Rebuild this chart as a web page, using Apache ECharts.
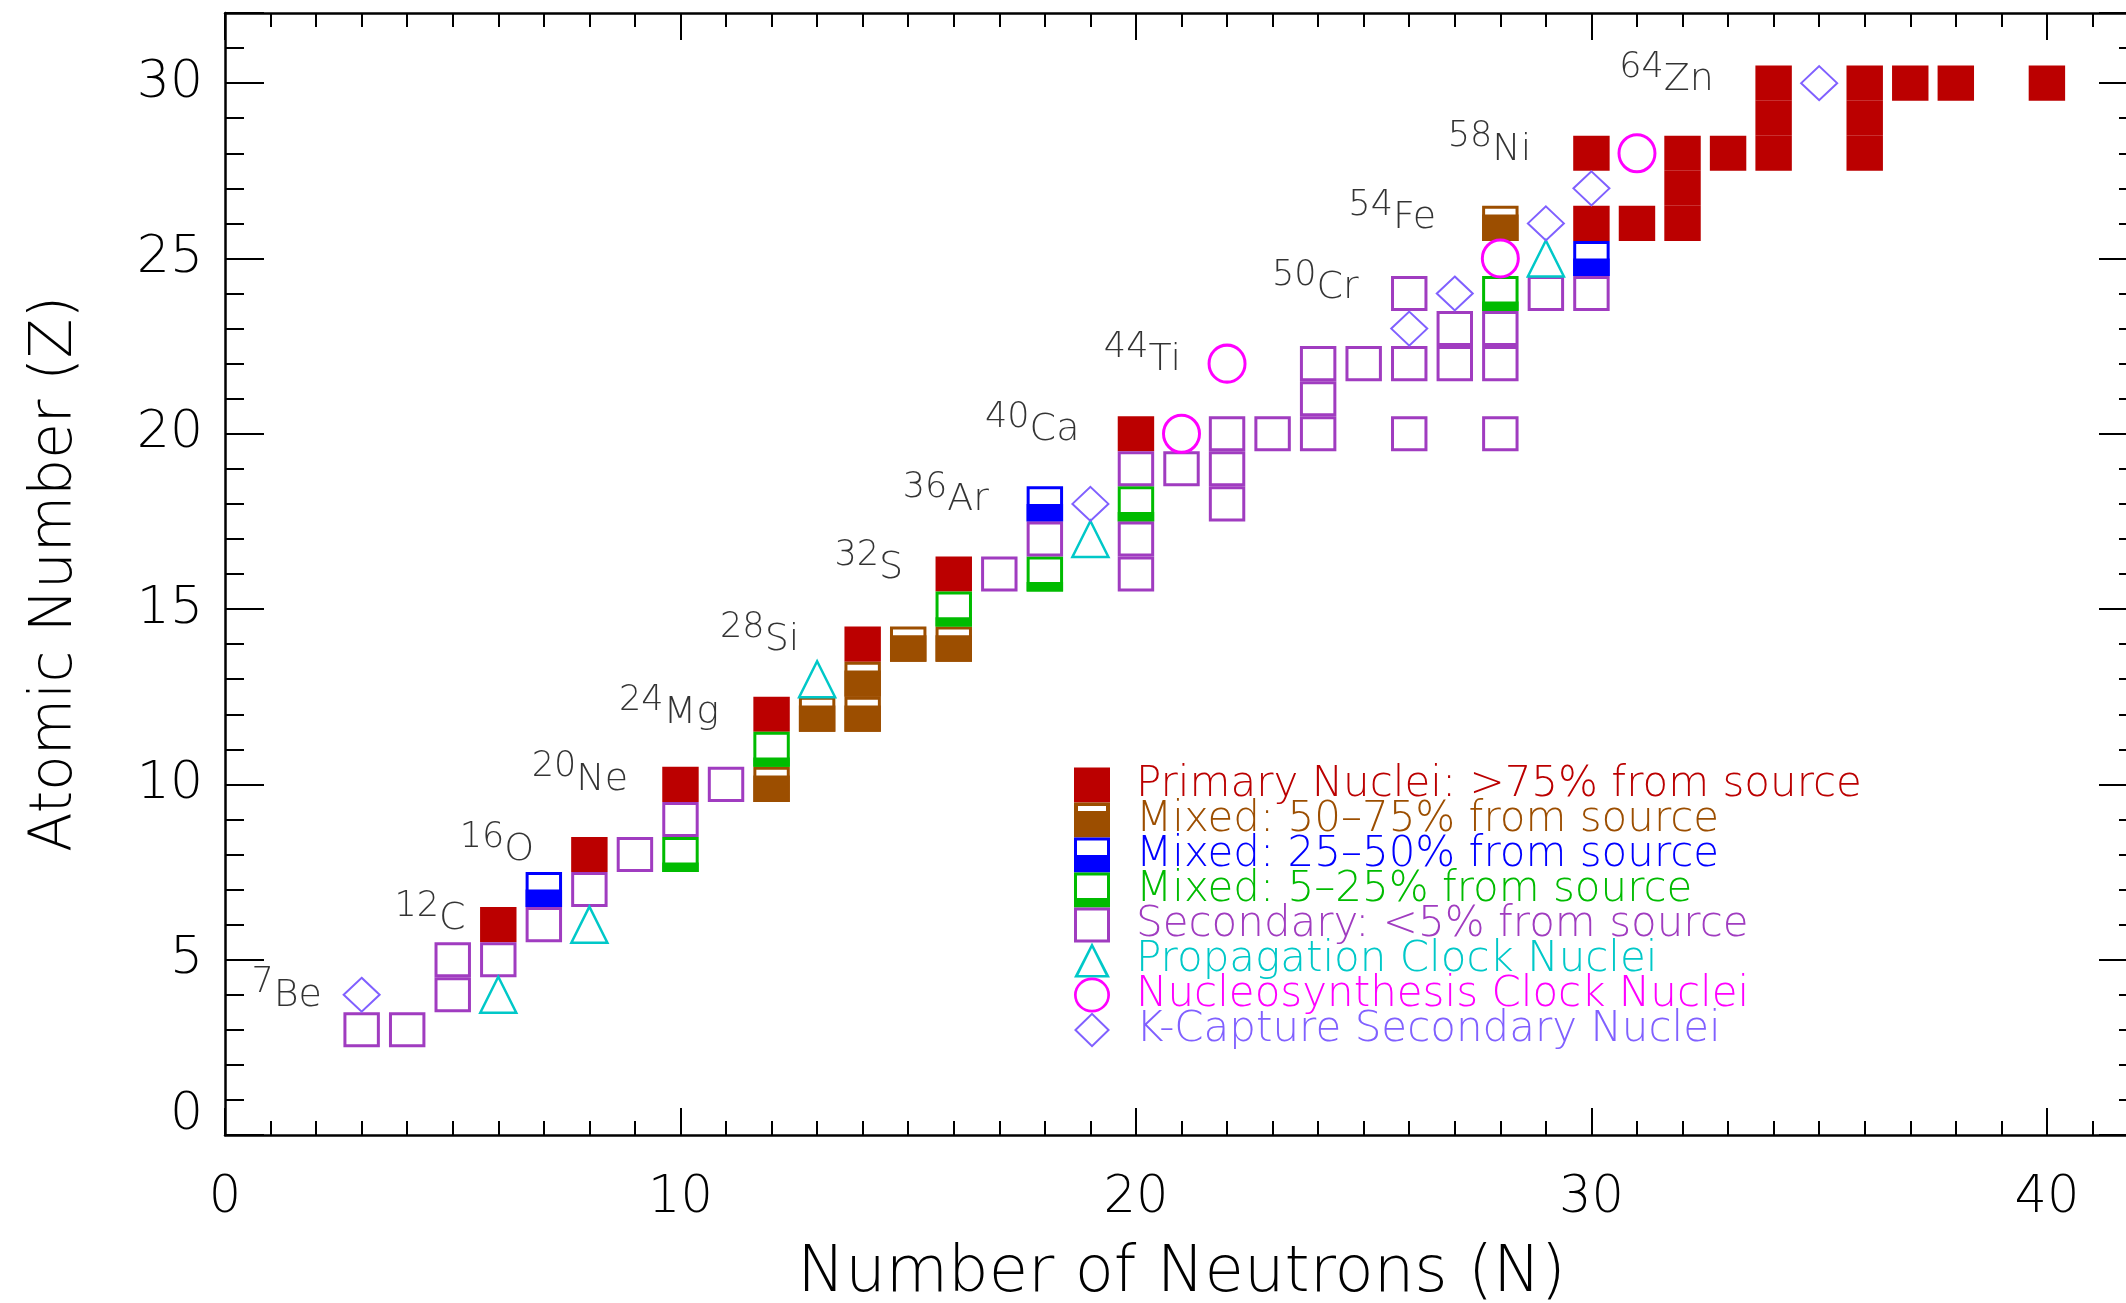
<!DOCTYPE html>
<html>
<head>
<meta charset="utf-8">
<title>Nuclei origin chart</title>
<script src="https://cdn.jsdelivr.net/npm/echarts@6.0.0/dist/echarts.min.js"></script>
<style>
html, body { margin: 0; padding: 0; background: #ffffff; }
#chart { width: 2126px; height: 1303px; }
</style>
</head>
<body>
<div id="chart"></div>
<script>
// ---------------- DATA : [N (neutrons), Z (atomic number)] ----------------
const primary = [[6,6],[8,8],[10,10],[12,12],[14,14],[16,16],[20,20],[30,26],[30,28],[31,26],
  [32,26],[32,27],[32,28],[33,28],[34,28],[34,29],[34,30],[36,28],[36,29],[36,30],[37,30],[38,30],[40,30]];
const mixed5075 = [[12,10],[13,12],[14,12],[14,13],[15,14],[16,14],[28,26]];
const mixed2550 = [[7,7],[18,18],[30,25]];
const mixed525 = [[10,8],[12,11],[16,15],[18,16],[20,18],[28,24]];
const secondary = [[3,3],[4,3],[5,4],[5,5],[6,5],[7,6],[8,7],[9,8],[10,9],[11,10],[17,16],[18,17],
  [20,16],[20,17],[20,19],[21,19],[22,18],[22,19],[22,20],[23,20],[24,20],[24,21],[24,22],[25,22],
  [26,20],[26,22],[26,24],[27,22],[27,23],[28,20],[28,22],[28,23],[29,24],[30,24]];
const propagationClock = [[6,4],[8,6],[13,13],[19,17],[29,25]];
const nucleosynthesisClock = [[21,20],[22,22],[28,25],[31,28]];
const kCapture = [[3,4],[19,18],[26,23],[27,24],[29,26],[30,27],[35,30]];
// isotope labels: [N at right end of label, Z of element symbol, mass number, element]
const isotopeLabels = [[2.14,3.97,'7','Be'],[5.29,6.16,'12','C'],[6.80,8.13,'16','O'],[8.86,10.13,'20','Ne'],
  [10.86,12.03,'24','Mg'],[12.62,14.1,'28','Si'],[14.9,16.17,'32','S'],[16.78,18.1,'36','Ar'],
  [18.77,20.1,'40','Ca'],[21.0,22.1,'44','Ti'],[24.9,24.15,'50','Cr'],[26.6,26.14,'54','Fe'],
  [28.69,28.1,'58','Ni'],[32.7,30.09,'64','Zn']];
const categoryNames = ['Primary Nuclei: >75% from source','Mixed: 50–75% from source','Mixed: 25–50% from source',
  'Mixed: 5–25% from source','Secondary: <5% from source','Propagation Clock Nuclei',
  'Nucleosynthesis Clock Nuclei','K-Capture Secondary Nuclei'];
const sourceFraction = [1, 0.75, 0.5, 0.27, 0];
const xTickLabels = ['0','10','20','30','40'];
const yTickLabels = ['0','5','10','15','20','25','30'];
const xTitle = 'Number of Neutrons (N)';
const yTitle = 'Atomic Number (Z)';

// ---------------- STYLE ----------------
const FONT = '"DejaVu Sans", sans-serif';
const FW = 200;
const COLORS = ['#BB0000','#9C4E00','#0000FF','#00BB00','#A03CC0','#00C8C8','#FF00FF','#8060FF'];
const CELL_W = 0.8;   // square width in N units (height = 1 Z unit)
const LW = 3;
const ICONS = [
  'rect',
  'path://M0,0H36V35H0Z M4,3.5V8.5H32V3.5Z',
  'path://M0,0H36V35H0Z M3,3V17.5H33V3Z',
  'path://M0,0H36V35H0Z M3,3V25.5H33V3Z',
  'path://M0,0H36V35H0Z M3,3V32H33V3Z',
  'path://M18,0L36,35H0Z M18,5.5L4.5,32.5H31.5Z',
  'path://M0,17.5A18,17.5 0 1 1 36,17.5A18,17.5 0 1 1 0,17.5Z M2.7,17.5A15.3,14.8 0 1 0 33.3,17.5A15.3,14.8 0 1 0 2.7,17.5Z',
  'path://M18,0L36,17.5L18,35L0,17.5Z M18,2.8L2.9,17.5L18,32.2L33.1,17.5Z'
];

function squareRenderer(color, frac) {
  return function (params, api) {
    const c = api.coord([api.value(0), api.value(1)]);
    const s = api.size([CELL_W, 1]);
    const w = s[0], h = s[1];
    const x0 = c[0] - w / 2, y0 = c[1] - h / 2;
    const kids = [];
    if (frac >= 1) {
      kids.push({ type: 'rect', shape: { x: x0, y: y0, width: w, height: h }, style: { fill: color } });
    } else {
      kids.push({ type: 'rect', shape: { x: x0 + LW / 2, y: y0 + LW / 2, width: w - LW, height: h - LW },
        style: { fill: '#ffffff', stroke: color, lineWidth: LW } });
      if (frac > 0) {
        kids.push({ type: 'rect', shape: { x: x0, y: y0 + h * (1 - frac), width: w, height: h * frac },
          style: { fill: color } });
      }
    }
    return { type: 'group', children: kids };
  };
}

const squareData = [primary, mixed5075, mixed2550, mixed525, secondary];
const series = squareData.map((d, i) => ({
  type: 'custom', name: categoryNames[i], data: d, xAxisIndex: 0, yAxisIndex: 0,
  itemStyle: { color: COLORS[i] }, renderItem: squareRenderer(COLORS[i], sourceFraction[i]),
  silent: true, z: 2
}));
const shapeSeries = [
  { data: propagationClock, symbol: 'triangle', size: [36, 36], bw: 2.5 },
  { data: nucleosynthesisClock, symbol: 'circle', size: [36, 37], bw: 3 },
  { data: kCapture, symbol: 'diamond', size: [36, 34], bw: 2 }
];
shapeSeries.forEach((s, k) => {
  const i = 5 + k;
  series.push({
    type: 'scatter', name: categoryNames[i], data: s.data, xAxisIndex: 0, yAxisIndex: 0,
    symbol: s.symbol, symbolSize: s.size, silent: true, z: 3,
    itemStyle: { color: 'rgba(255,255,255,0)', borderColor: COLORS[i], borderWidth: s.bw, opacity: 1 }
  });
});
series.push({
  type: 'scatter', name: 'labels', xAxisIndex: 0, yAxisIndex: 0, silent: true, z: 5,
  data: isotopeLabels.map(r => ({ value: [r[0], r[1]], mass: r[2], elem: r[3] })),
  symbolSize: 1, itemStyle: { color: 'rgba(0,0,0,0)' },
  label: {
    show: true, position: 'left', distance: 0,
    formatter: p => '{m|' + p.data.mass + '}{e|' + p.data.elem + '}',
    rich: {
      m: { fontFamily: FONT, fontWeight: FW, fontSize: 35, lineHeight: 20, verticalAlign: 'top', color: '#000' },
      e: { fontFamily: FONT, fontWeight: FW, fontSize: 38, lineHeight: 60, color: '#000' }
    }
  }
});

function makeAxis(dim, pos, interval, len, major) {
  const isX = dim === 'x';
  return {
    type: 'value', gridIndex: 0, position: pos, min: 0, max: isX ? 42 : 32, interval: interval,
    axisLine: { show: major, onZero: false, lineStyle: { color: '#000', width: 2.5 } },
    axisTick: { show: true, inside: true, length: len, lineStyle: { color: '#000', width: 2 } },
    axisLabel: { show: false },
    splitLine: { show: false }, minorTick: { show: false }, axisPointer: { show: false }
  };
}
const xAxes = [makeAxis('x','bottom',10,27,true), makeAxis('x','bottom',1,14,false),
               makeAxis('x','top',10,27,true), makeAxis('x','top',1,14,false)];
const yAxes = [makeAxis('y','left',5,39,true), makeAxis('y','left',1,19,false),
               makeAxis('y','right',5,39,true), makeAxis('y','right',1,19,false)];
Object.assign(xAxes[0], {
  name: xTitle, nameLocation: 'middle', nameGap: 107,
  nameTextStyle: { fontFamily: FONT, fontWeight: FW, fontSize: 64, color: '#000' },
  axisLabel: { show: true, margin: 38, color: '#000', fontFamily: FONT, fontWeight: FW, fontSize: 51,
    formatter: v => xTickLabels.includes(String(v)) ? String(v) : '' }
});
Object.assign(yAxes[0], {
  name: yTitle, nameLocation: 'middle', nameGap: 140,
  nameTextStyle: { fontFamily: FONT, fontWeight: FW, fontSize: 58, color: '#000' },
  axisLabel: { show: true, margin: 22, color: '#000', fontFamily: FONT, fontWeight: FW, fontSize: 52,
    formatter: v => { const s = String(v); if (!yTickLabels.includes(s)) return ''; return v === 0 ? '{z|0}' : s; },
    rich: { z: { fontFamily: FONT, fontWeight: FW, fontSize: 52, color: '#000', padding: [0, 0, 40, 0] } } }
});

const chart = echarts.init(document.getElementById('chart'), null, { renderer: 'canvas' });
chart.setOption({
  animation: false,
  backgroundColor: '#ffffff',
  grid: { left: 225, top: 13, width: 1913, height: 1122, containLabel: false, outerBoundsMode: 'none' },
  xAxis: xAxes,
  yAxis: yAxes,
  legend: {
    orient: 'vertical', left: 1074, top: 764, padding: 0, itemGap: -7, itemWidth: 36, itemHeight: 35,
    selectedMode: false,
    textStyle: { fontFamily: FONT, fontWeight: FW, fontSize: 42, lineHeight: 35, padding: [0, 0, 0, 21] },
    data: categoryNames.map((n, i) => ({
      name: n, icon: ICONS[i],
      itemStyle: { color: COLORS[i], borderWidth: 0, opacity: 1 },
      textStyle: { color: COLORS[i] }
    }))
  },
  series: series
});
</script>
</body>
</html>
